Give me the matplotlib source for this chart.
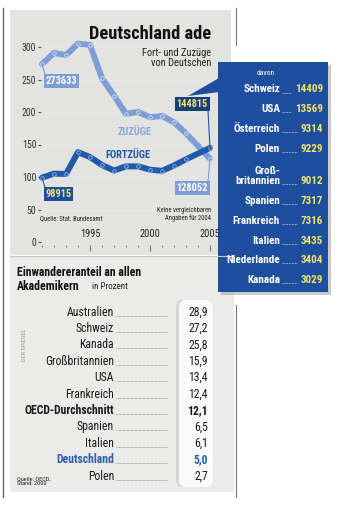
import matplotlib
matplotlib.use('Agg')
import matplotlib.pyplot as plt
import matplotlib.patches as mpatches
from matplotlib import font_manager
from matplotlib.ticker import FixedLocator

# Wanderung von Deutschen (Statistisches Bundesamt), 2004 fehlt
years = [1991, 1992, 1993, 1994, 1995, 1996, 1997, 1998, 1999, 2000, 2001, 2002, 2003, 2005]
zuzuege = [273633, 290850, 287561, 305037, 303347, 251737, 225335, 196956,
           200150, 191909, 193958, 184202, 167216, 128052]
fortzuege = [98915, 105171, 104653, 138280, 130672, 118430, 109903, 116403,
             116410, 111244, 109507, 117683, 127267, 144815]
y_ticks = [0, 50, 100, 150, 200, 250, 300]
x_major = [1995, 2000, 2005]

# Fortzuege 2005 nach Zielland
ziel_laender = ['Schweiz', 'USA', 'Österreich', 'Polen', 'Groß-\nbritannien',
                'Spanien', 'Frankreich', 'Italien', 'Niederlande', 'Kanada']
ziel_werte = [14409, 13569, 9314, 9229, 9012, 7317, 7316, 3435, 3404, 3029]

# Einwandereranteil an allen Akademikern in Prozent (OECD, 2000)
akad_laender = ['Australien', 'Schweiz', 'Kanada', 'Großbritannien', 'USA',
                'Frankreich', 'OECD-Durchschnitt', 'Spanien', 'Italien',
                'Deutschland', 'Polen']
akad_werte = [28.9, 27.2, 25.8, 15.9, 13.4, 12.4, 12.1, 6.5, 6.1, 5.0, 2.7]


def first_font(names, fallback='DejaVu Sans'):
    for name in names:
        try:
            font_manager.findfont(font_manager.FontProperties(family=name),
                                  fallback_to_default=False)
            return name
        except ValueError:
            continue
    return fallback


NARROW = first_font(['Liberation Sans Narrow', 'Roboto Condensed',
                     'Open Sans Condensed', 'Liberation Sans'])
plt.rcParams['font.family'] = [NARROW, 'DejaVu Sans']

W, H = 345, 505
ZU_COL = '#7d9dd4'
FORT_COL = '#1f5aa8'
PANEL_COL = '#1e4f9f'
GELB = '#eee36a'


def px_rect(x0, y0, x1, y1):
    return [x0 / W, 1 - y1 / H, (x1 - x0) / W, (y1 - y0) / H]


fig = plt.figure(figsize=(W / 100, H / 100), dpi=100)
fig.patch.set_facecolor('white')

# pixel canvas for backgrounds and the text tables
bg = fig.add_axes([0, 0, 1, 1], zorder=0)
bg.set_xlim(0, W)
bg.set_ylim(H, 0)
bg.axis('off')

bg.add_patch(mpatches.Rectangle((10, 10), 221, 245, fc='#e3e3e1', ec='none'))
bg.add_patch(mpatches.Rectangle((10, 256), 224, 236, fc='#ebebea', ec='none'))
bg.plot([10, 234], [255.5, 255.5], color='#c4c4c4', lw=0.8)
bg.plot([3, 3], [8, 497], color='#666666', lw=1.0)
bg.plot([236, 236], [8, 45], color='#777777', lw=0.8)
bg.plot([236, 236], [305, 497], color='#777777', lw=0.8)

# title block
bg.text(211, 39, 'Deutschland ade', ha='right', va='baseline',
        fontsize=13.2, fontweight='bold', color='#111111')
bg.text(211, 53, 'Fort- und Zuzüge', ha='right', va='center',
        fontsize=7.5, color='#222222')
bg.text(211, 63, 'von Deutschen', ha='right', va='center',
        fontsize=7.5, color='#222222')

# line chart
ax = fig.add_axes(px_rect(41, 40, 213, 245), zorder=2)
ax.patch.set_alpha(0)
ax.set_xlim(1991 - 1 / 12, 1991 + 171 / 12)
ax.set_ylim(-3 / 0.65, 202 / 0.65)
for s in ax.spines.values():
    s.set_visible(False)

ax.set_yticks(y_ticks)
ax.tick_params(axis='y', length=2.2, width=0.8, color='#555555', pad=1.2,
               labelsize=7, labelcolor='#333333')
ax.set_xticks(x_major)
ax.xaxis.set_minor_locator(FixedLocator(range(1991, 2006)))
ax.tick_params(axis='x', which='major', length=4.3, width=0.8, color='#777777',
               pad=-16, labelsize=7.5, labelcolor='#222222')
ax.tick_params(axis='x', which='minor', length=1.6, width=0.8, color='#888888')
for y in y_ticks[1:]:
    ax.axhline(y, color='#e9e9e7', lw=0.5, zorder=0)

ax.text(40, 219, 'Quelle: Stat. Bundesamt', ha='left', va='center',
        fontsize=4.8, color='#222222', transform=bg.transData, zorder=6)
ax.text(211, 214.5, 'Keine vergleichbaren\nAngaben für 2004', ha='right',
        va='center', fontsize=4.8, color='#222222', linespacing=1.1,
        transform=bg.transData, zorder=6)

zu_k = [v / 1000 for v in zuzuege]
fort_k = [v / 1000 for v in fortzuege]
ax.plot(years, zu_k, color=ZU_COL, lw=4.3, solid_capstyle='round',
        solid_joinstyle='round', marker='o', ms=2.6, mfc=ZU_COL, mec='#d3def2',
        mew=0.6, clip_on=False, zorder=3)
ax.plot(years, fort_k, color=FORT_COL, lw=4.3, solid_capstyle='round',
        solid_joinstyle='round', marker='o', ms=2.6, mfc=FORT_COL, mec='#9ab7e2',
        mew=0.6, clip_on=False, zorder=4)

ax.text(1998.75, 169, 'ZUZÜGE', ha='center', va='center', fontsize=7.5,
        fontweight='bold', color='#8aa7da')
ax.text(1998.2, 134, 'FORTZÜGE', ha='center', va='center', fontsize=7.5,
        fontweight='bold', color=FORT_COL)


def value_box(x, v, dx, dy, ha, relpos, fc, tc, lc):
    ax.annotate(f'{v:d}', xy=(x, v / 1000), xytext=(dx, dy),
                textcoords='offset points', ha=ha, va='center',
                fontsize=7.5, fontweight='bold', color=tc,
                bbox=dict(boxstyle='square,pad=0.18', fc=fc, ec='none'),
                arrowprops=dict(arrowstyle='-', color=lc, lw=0.8,
                                shrinkA=0, shrinkB=0, relpos=relpos),
                zorder=5, annotation_clip=False)


value_box(years[0], zuzuege[0], 2.5, -12.2, 'left', (0, 1), ZU_COL, 'white', ZU_COL)
value_box(years[0], fortzuege[0], 2.5, -11.5, 'left', (0, 1), PANEL_COL, GELB, FORT_COL)
value_box(years[-1], fortzuege[-1], -1.5, 31.5, 'right', (1, 0), '#183f7c', GELB, FORT_COL)
value_box(years[-1], zuzuege[-1], -1.5, -21, 'right', (1, 1), ZU_COL, 'white', ZU_COL)

# "davon" panel with pointer
bg.add_patch(mpatches.Rectangle((221, 65), 110, 230, fc='#8f8f8f', alpha=0.45, ec='none'))
bg.add_patch(mpatches.Polygon([(188, 96), (219, 78), (219, 92)], closed=True,
                              fc=PANEL_COL, ec='none'))
bg.add_patch(mpatches.Rectangle((218, 62), 110, 230, fc=PANEL_COL, ec='none'))
bg.text(266, 73, 'davon', ha='center', va='center', fontsize=5.5, color='white')

base = 92.5
for name, val in zip(ziel_laender, ziel_werte):
    base += 12.5 * name.count('\n')
    label = f'{val}'
    bg.text(280, base, name, ha='right', va='baseline', fontsize=8,
            fontweight='bold', color='white', linespacing=1.05)
    bg.text(323, base, label, ha='right', va='baseline', fontsize=8,
            fontweight='bold', color=GELB)
    bg.plot([282, 322 - 6.2 * len(label)], [base, base], color='#b8c7e6',
            lw=0.7, ls=(0, (0.8, 0.8)))
    base += 19.8

# immigrant share table
bg.text(17, 272, 'Einwandereranteil an allen', ha='left', va='center',
        fontsize=8.5, fontweight='bold', color='#111111')
bg.text(17, 286, 'Akademikern', ha='left', va='center', fontsize=8.5,
        fontweight='bold', color='#111111')
bg.text(92, 286.5, 'in Prozent', ha='left', va='center', fontsize=6.5,
        color='#222222')

bg.add_patch(mpatches.FancyBboxPatch((176, 300), 37, 187,
                                     boxstyle='round,pad=0,rounding_size=7',
                                     fc='#c9c9c9', ec='none', alpha=0.6))
bg.add_patch(mpatches.FancyBboxPatch((179, 300), 34, 187,
                                     boxstyle='round,pad=0,rounding_size=7',
                                     fc='#fafafa', ec='none'))

for i, (name, val) in enumerate(zip(akad_laender, akad_werte)):
    yb = 315.5 + 16.4 * i
    weight = 'bold' if name in ('OECD-Durchschnitt', 'Deutschland') else 'normal'
    col = '#2c62ad' if name == 'Deutschland' else '#1a1a1a'
    bg.text(114, yb, name, ha='right', va='baseline', fontsize=8.5,
            fontweight=weight, color=col)
    bg.text(208, yb, f'{val:.1f}'.replace('.', ','), ha='right', va='baseline',
            fontsize=8.5, fontweight=weight, color=col)
    bg.plot([116, 167], [yb, yb], color='#777777', lw=0.6, ls=(0, (0.7, 0.9)))

bg.text(17, 481, 'Quelle: OECD,\nStand: 2000', ha='left', va='center',
        fontsize=4.5, color='#222222', linespacing=1.0)
bg.text(24, 345, 'DER SPIEGEL', ha='center', va='center', rotation=90,
        fontsize=4.5, color='#9a9a9a')

fig.savefig('out.png', dpi=100)
